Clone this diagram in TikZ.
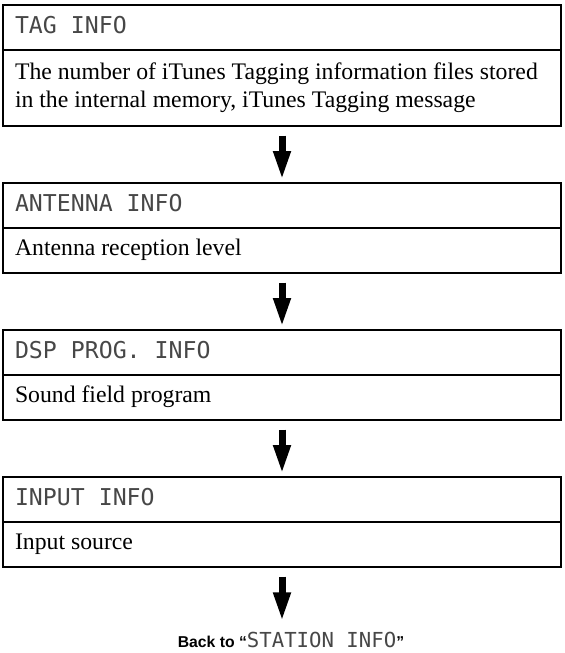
\documentclass[tikz,border=0pt]{standalone}
\usepackage{fontspec}
\setmainfont{Liberation Serif}
\newfontfamily\lcdfont{DejaVu Sans Mono}
\newfontfamily\helvfont{Liberation Sans}
\definecolor{lcdgray}{rgb}{0.28,0.28,0.28}
\usetikzlibrary{arrows.meta,positioning}

\tikzset{
  hdr/.style={draw, line width=1.5pt, outer sep=0pt, minimum width=418.5pt, minimum height=33.4pt,
    text width=400.5pt, inner xsep=9pt, inner ysep=0pt, align=flush left, text depth=3pt,
    font=\lcdfont\fontsize{17.4pt}{20pt}\selectfont, text=lcdgray},
  info/.style={draw, line width=1.5pt, outer sep=0pt, minimum width=418.5pt, minimum height=33.75pt,
    text width=400.5pt, inner xsep=9pt, inner ysep=0pt, align=flush left,
    font=\fontsize{17.8pt}{21pt}\selectfont},
  flow/.style={line width=5.25pt, -{Triangle[width=12pt,length=21.75pt]}, shorten <=7.5pt, shorten >=2.25pt}
}

\begin{document}
\begin{tikzpicture}[x=0.75pt,y=-0.75pt]
	\useasboundingbox (0,0) rectangle (564,653);
	
	% Box: tag info
	\node[hdr, anchor=north west] (tag) at (3,5) {TAG INFO};
	\node[info, minimum height=57pt, below=0pt of tag] (tagtxt) {The number of iTunes Tagging information files stored\\in the internal memory, iTunes Tagging message};
	% Box: antenna info
	\node[hdr, below=43.1pt of tagtxt] (ant) {ANTENNA INFO};
	\node[info, below=0pt of ant] (anttxt) {Antenna reception level};
	% Box: dsp prog. info
	\node[hdr, below=43.1pt of anttxt] (dsp) {DSP PROG. INFO};
	\node[info, below=0pt of dsp] (dsptxt) {Sound field program};
	% Box: input info
	\node[hdr, below=43.1pt of dsptxt] (inp) {INPUT INFO};
	\node[info, below=0pt of inp] (inptxt) {Input source};
	
	% Text Node
	\node[anchor=base, inner sep=0pt] (back) at (291,647) {{\helvfont\bfseries\fontsize{11.8pt}{14pt}\selectfont Back to “}{\lcdfont\color{lcdgray}\fontsize{15.5pt}{18pt}\selectfont STATION INFO}{\helvfont\bfseries\fontsize{11.8pt}{14pt}\selectfont ”}};
	
	% Arrows
	\draw[flow] (tagtxt.south) -- (ant.north);
	\draw[flow] (anttxt.south) -- (dsp.north);
	\draw[flow] (dsptxt.south) -- (inp.north);
	\draw[flow, shorten >=7.5pt] (inptxt.south) -- (inptxt.south |- back.north);
	
\end{tikzpicture}
\end{document}
